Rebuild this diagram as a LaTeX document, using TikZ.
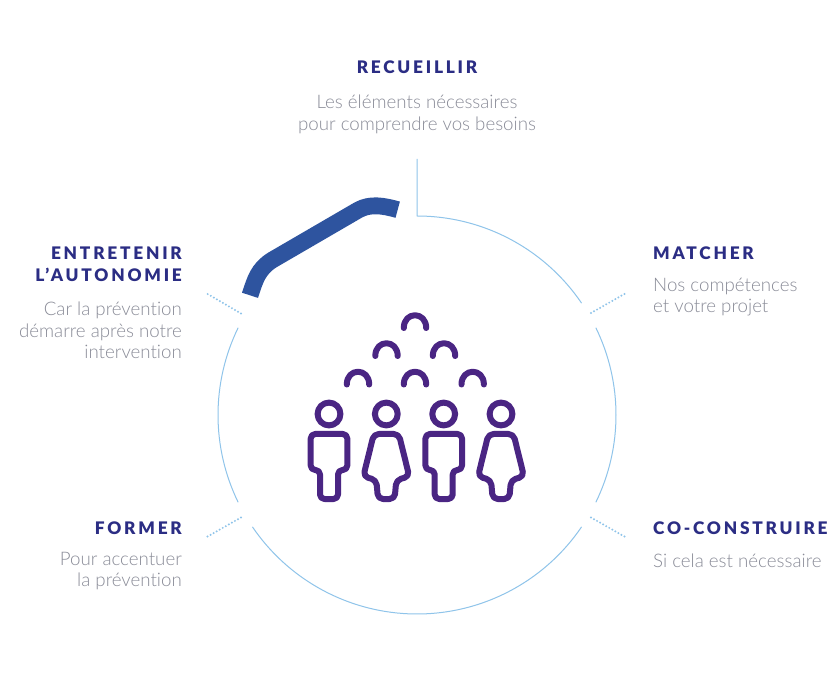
\documentclass[tikz,border=0pt]{standalone}
\usepackage{fontspec}
\setmainfont[Ligatures=NoCommon]{Lato Light}
\newfontfamily\titlef[LetterSpace=16]{Lato Black}
\definecolor{purp}{HTML}{4A2583}
\definecolor{thick}{HTML}{2E549F}
\definecolor{thin}{HTML}{8FC4EA}
\definecolor{navy}{HTML}{2B2D84}
\definecolor{greyt}{HTML}{8A8C98}
\tikzset{
 titletext/.style={inner sep=0pt,text=navy,font=\titlef\fontsize{17.3}{22}\selectfont},
 bodytext/.style={inner sep=0pt,text=greyt,font=\fontsize{18.7}{21.7}\selectfont},
 ring/.style={draw=thin,line width=1pt},
 tick/.style={draw=thin,line width=2.2pt,line cap=round,dash pattern=on 0pt off 3.5pt},
 icon/.style={draw=purp,line width=6pt,line cap=round,line join=round},
}
\newcommand{\headarc}[2]{\draw[icon] (#1-11.2,#2) .. controls (#1-11.2,#2-17) and (#1+11.2,#2-17) .. (#1+11.2,#2);}
\newcommand{\mybody}[1]{\draw[icon,rounded corners=4.5pt] (#1-9,499)--(#1-9,470)--(#1-18.3,470)--(#1-18.3,434)--(#1+18.3,434)--(#1+18.3,470)--(#1+9,470)--(#1+9,499)--cycle;}
\newcommand{\herbody}[1]{\draw[icon,rounded corners=5pt] (#1-8.3,499)--(#1-10,480)--(#1-23,476.5)--(#1-12.5,434)--(#1+12.5,434)--(#1+23,476.5)--(#1+10,480)--(#1+8.3,499)--cycle;}
\begin{document}
\begin{tikzpicture}[x=1pt,y=-1pt]
\path[use as bounding box] (0,0) rectangle (836,676);
\fill[white] (0,0) rectangle (836,676);
% ring
\coordinate (C) at (417,415);
\coordinate (stemtop) at (417,159);
\draw[ring] (stemtop) -- (417,216) arc[start angle=-90,end angle=-34.2,radius=199];
\draw[ring] ([shift={(-26:199)}]C) arc[start angle=-26,end angle=26,radius=199];
\draw[ring] ([shift={(34.2:199)}]C) arc[start angle=34.2,end angle=145.8,radius=199];
\draw[ring] ([shift={(154:199)}]C) arc[start angle=154,end angle=206,radius=199];
% ticks
\draw[tick] (591,313) -- (627,292.5);
\draw[tick] (591,517.5) -- (627,538);
\draw[tick] (241,517.5) -- (205,538);
\draw[tick] (241,313.5) -- (205,292.5);
% thick arc
\draw[draw=thick,line width=16.8pt] (250,295.3) .. controls (255,280) and (258,269) .. (272.3,260)
  -- (358.3,210) .. controls (370,203.5) and (383,205.5) .. (397.7,209.7);
% people
\headarc{415}{328}
\headarc{386.5}{356}\headarc{444}{356}
\headarc{358}{384.5}\headarc{415}{384.5}\headarc{472.7}{384.5}
\foreach \hx in {329,386.3,443.7,501}{\draw[icon] (\hx,414) circle[radius=11.4];}
\mybody{329}\herbody{386.3}\mybody{443.7}\herbody{501}
% texts
\node[titletext,anchor=base] (t1) at (417,74) {RECUEILLIR};
\node[bodytext,anchor=base] (b1a) at (417,108.5) {Les éléments nécessaires};
\node[bodytext,anchor=base] (b1b) at (417,130.5) {pour comprendre vos besoins};
\node[titletext,anchor=base east] (t2a) at (182,259.3) {ENTRETENIR};
\node[titletext,anchor=base east] (t2b) at (182,281.3) {L’AUTONOMIE};
\node[bodytext,anchor=base east] (b2a) at (182,315.5) {Car la prévention};
\node[bodytext,anchor=base east] (b2b) at (182,337.5) {démarre après notre};
\node[bodytext,anchor=base east] (b2c) at (182,358.5) {intervention};
\node[titletext,anchor=base west] (t3) at (653,259.3) {MATCHER};
\node[bodytext,anchor=base west] (b3a) at (653,291.5) {Nos compétences};
\node[bodytext,anchor=base west] (b3b) at (653,312.5) {et votre projet};
\node[titletext,anchor=base east] (t4) at (182,534) {FORMER};
\node[bodytext,anchor=base east] (b4a) at (182,565.5) {Pour accentuer};
\node[bodytext,anchor=base east] (b4b) at (182,586.5) {la prévention};
\node[titletext,anchor=base west] (t5) at (653,534) {CO-CONSTRUIRE};
\node[bodytext,anchor=base west] (b5) at (653,567.5) {Si cela est nécessaire};
\end{tikzpicture}
\end{document}
